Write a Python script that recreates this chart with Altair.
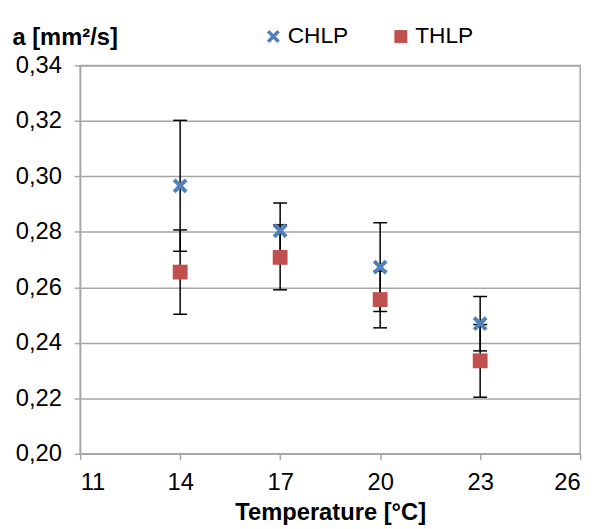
import altair as alt
import pandas as pd

# ---- data ----
temperatures = [14, 17, 20, 23]
chlp_values = [0.2966, 0.2804, 0.2673, 0.2469]
chlp_errors = [0.0236, 0.0100, 0.0160, 0.0098]
thlp_values = [0.2655, 0.2708, 0.2556, 0.2335]
thlp_errors = [0.0152, 0.0117, 0.0102, 0.0131]
series_names = ["CHLP", "THLP"]
x_ticks = [11, 14, 17, 20, 23, 26]
y_ticks = [0.20, 0.22, 0.24, 0.26, 0.28, 0.30, 0.32, 0.34]

rows = []
for t, v, e in zip(temperatures, chlp_values, chlp_errors):
    rows.append({"series": "CHLP", "temp": t, "value": v, "lo": v - e, "hi": v + e})
for t, v, e in zip(temperatures, thlp_values, thlp_errors):
    rows.append({"series": "THLP", "temp": t, "value": v, "lo": v - e, "hi": v + e})
df = pd.DataFrame(rows)

FONT = "Liberation Sans"
GRID = "#a6a6a6"
X_PATH = ("M-1,-0.62L-0.62,-1L0,-0.38L0.62,-1L1,-0.62L0.38,0L1,0.62L0.62,1"
          "L0,0.38L-0.62,1L-1,0.62L-0.38,0Z")

xscale = alt.Scale(domain=[11, 26], nice=False, zero=False)
yscale = alt.Scale(domain=[0.20, 0.34], nice=False, zero=False)

x_axis = alt.Axis(
    values=x_ticks, grid=False, title="Temperature [°C]",
    titleFont=FONT, titleFontSize=24, titleFontWeight="bold", titleColor="#000000",
    titleY=67, titleBaseline="alphabetic",
    labelFont=FONT, labelFontSize=24, labelColor="#000000", labelPadding=11,
    tickSize=6, tickColor=GRID, tickWidth=1.5, domainColor=GRID, domainWidth=1.5,
)
y_axis = alt.Axis(
    values=y_ticks, grid=True, gridColor=GRID, gridWidth=1.5,
    labelExpr="replace(format(datum.value, '.2f'), '.', ',')",
    title="a [mm²/s]", titleAngle=0, titleAlign="left", titleBaseline="alphabetic",
    titleX=-69, titleY=-21,
    titleFont=FONT, titleFontSize=24, titleFontWeight="bold", titleColor="#000000",
    labelFont=FONT, labelFontSize=24, labelColor="#000000", labelPadding=13,
    tickSize=6, tickColor=GRID, tickWidth=1.5, domainColor=GRID, domainWidth=1.5,
)

X = alt.X("temp:Q", scale=xscale, axis=x_axis, title="Temperature [°C]")

legend_cfg = dict(
    orient="none", direction="horizontal", legendX=184, legendY=-41,
    title=None, labelFont=FONT, labelFontSize=23, labelColor="#000000",
    symbolSize=170, labelOffset=3, columnPadding=41, padding=0,
    symbolStrokeWidth=0,
)

base = alt.Chart(df)

rules = base.mark_rule(color="#000000", strokeWidth=1.5).encode(
    x=X,
    y=alt.Y("lo:Q", scale=yscale, axis=y_axis, title="a [mm²/s]"),
    y2="hi:Q",
)
caps_lo = base.mark_tick(orient="horizontal", color="#000000", size=14, thickness=1.5, opacity=1).encode(
    x=X,
    y=alt.Y("lo:Q", scale=yscale, axis=y_axis, title="a [mm²/s]"),
)
caps_hi = base.mark_tick(orient="horizontal", color="#000000", size=14, thickness=1.5, opacity=1).encode(
    x=X,
    y=alt.Y("hi:Q", scale=yscale, axis=y_axis, title="a [mm²/s]"),
)
points = base.mark_point(filled=True, opacity=1, size=225, strokeWidth=0).encode(
    x=X,
    y=alt.Y("value:Q", scale=yscale, axis=y_axis, title="a [mm²/s]"),
    color=alt.Color(
        "series:N",
        scale=alt.Scale(domain=series_names, range=["#4f81bd", "#c0504d"]),
        legend=alt.Legend(**legend_cfg),
    ),
    shape=alt.Shape(
        "series:N",
        scale=alt.Scale(domain=series_names, range=[X_PATH, "square"]),
        legend=alt.Legend(**legend_cfg),
    ),
)

chart = (
    alt.layer(rules, caps_lo, caps_hi, points)
    .properties(
        width=506,
        height=393,
        autosize=alt.AutoSizeParams(type="none"),
        padding={"left": 73, "top": 55, "right": 14, "bottom": 73},
        background="#ffffff",
    )
    .configure_view(stroke=GRID, strokeWidth=1.5)
)

chart.save("out.html", embed_options={"renderer": "svg", "actions": False})
